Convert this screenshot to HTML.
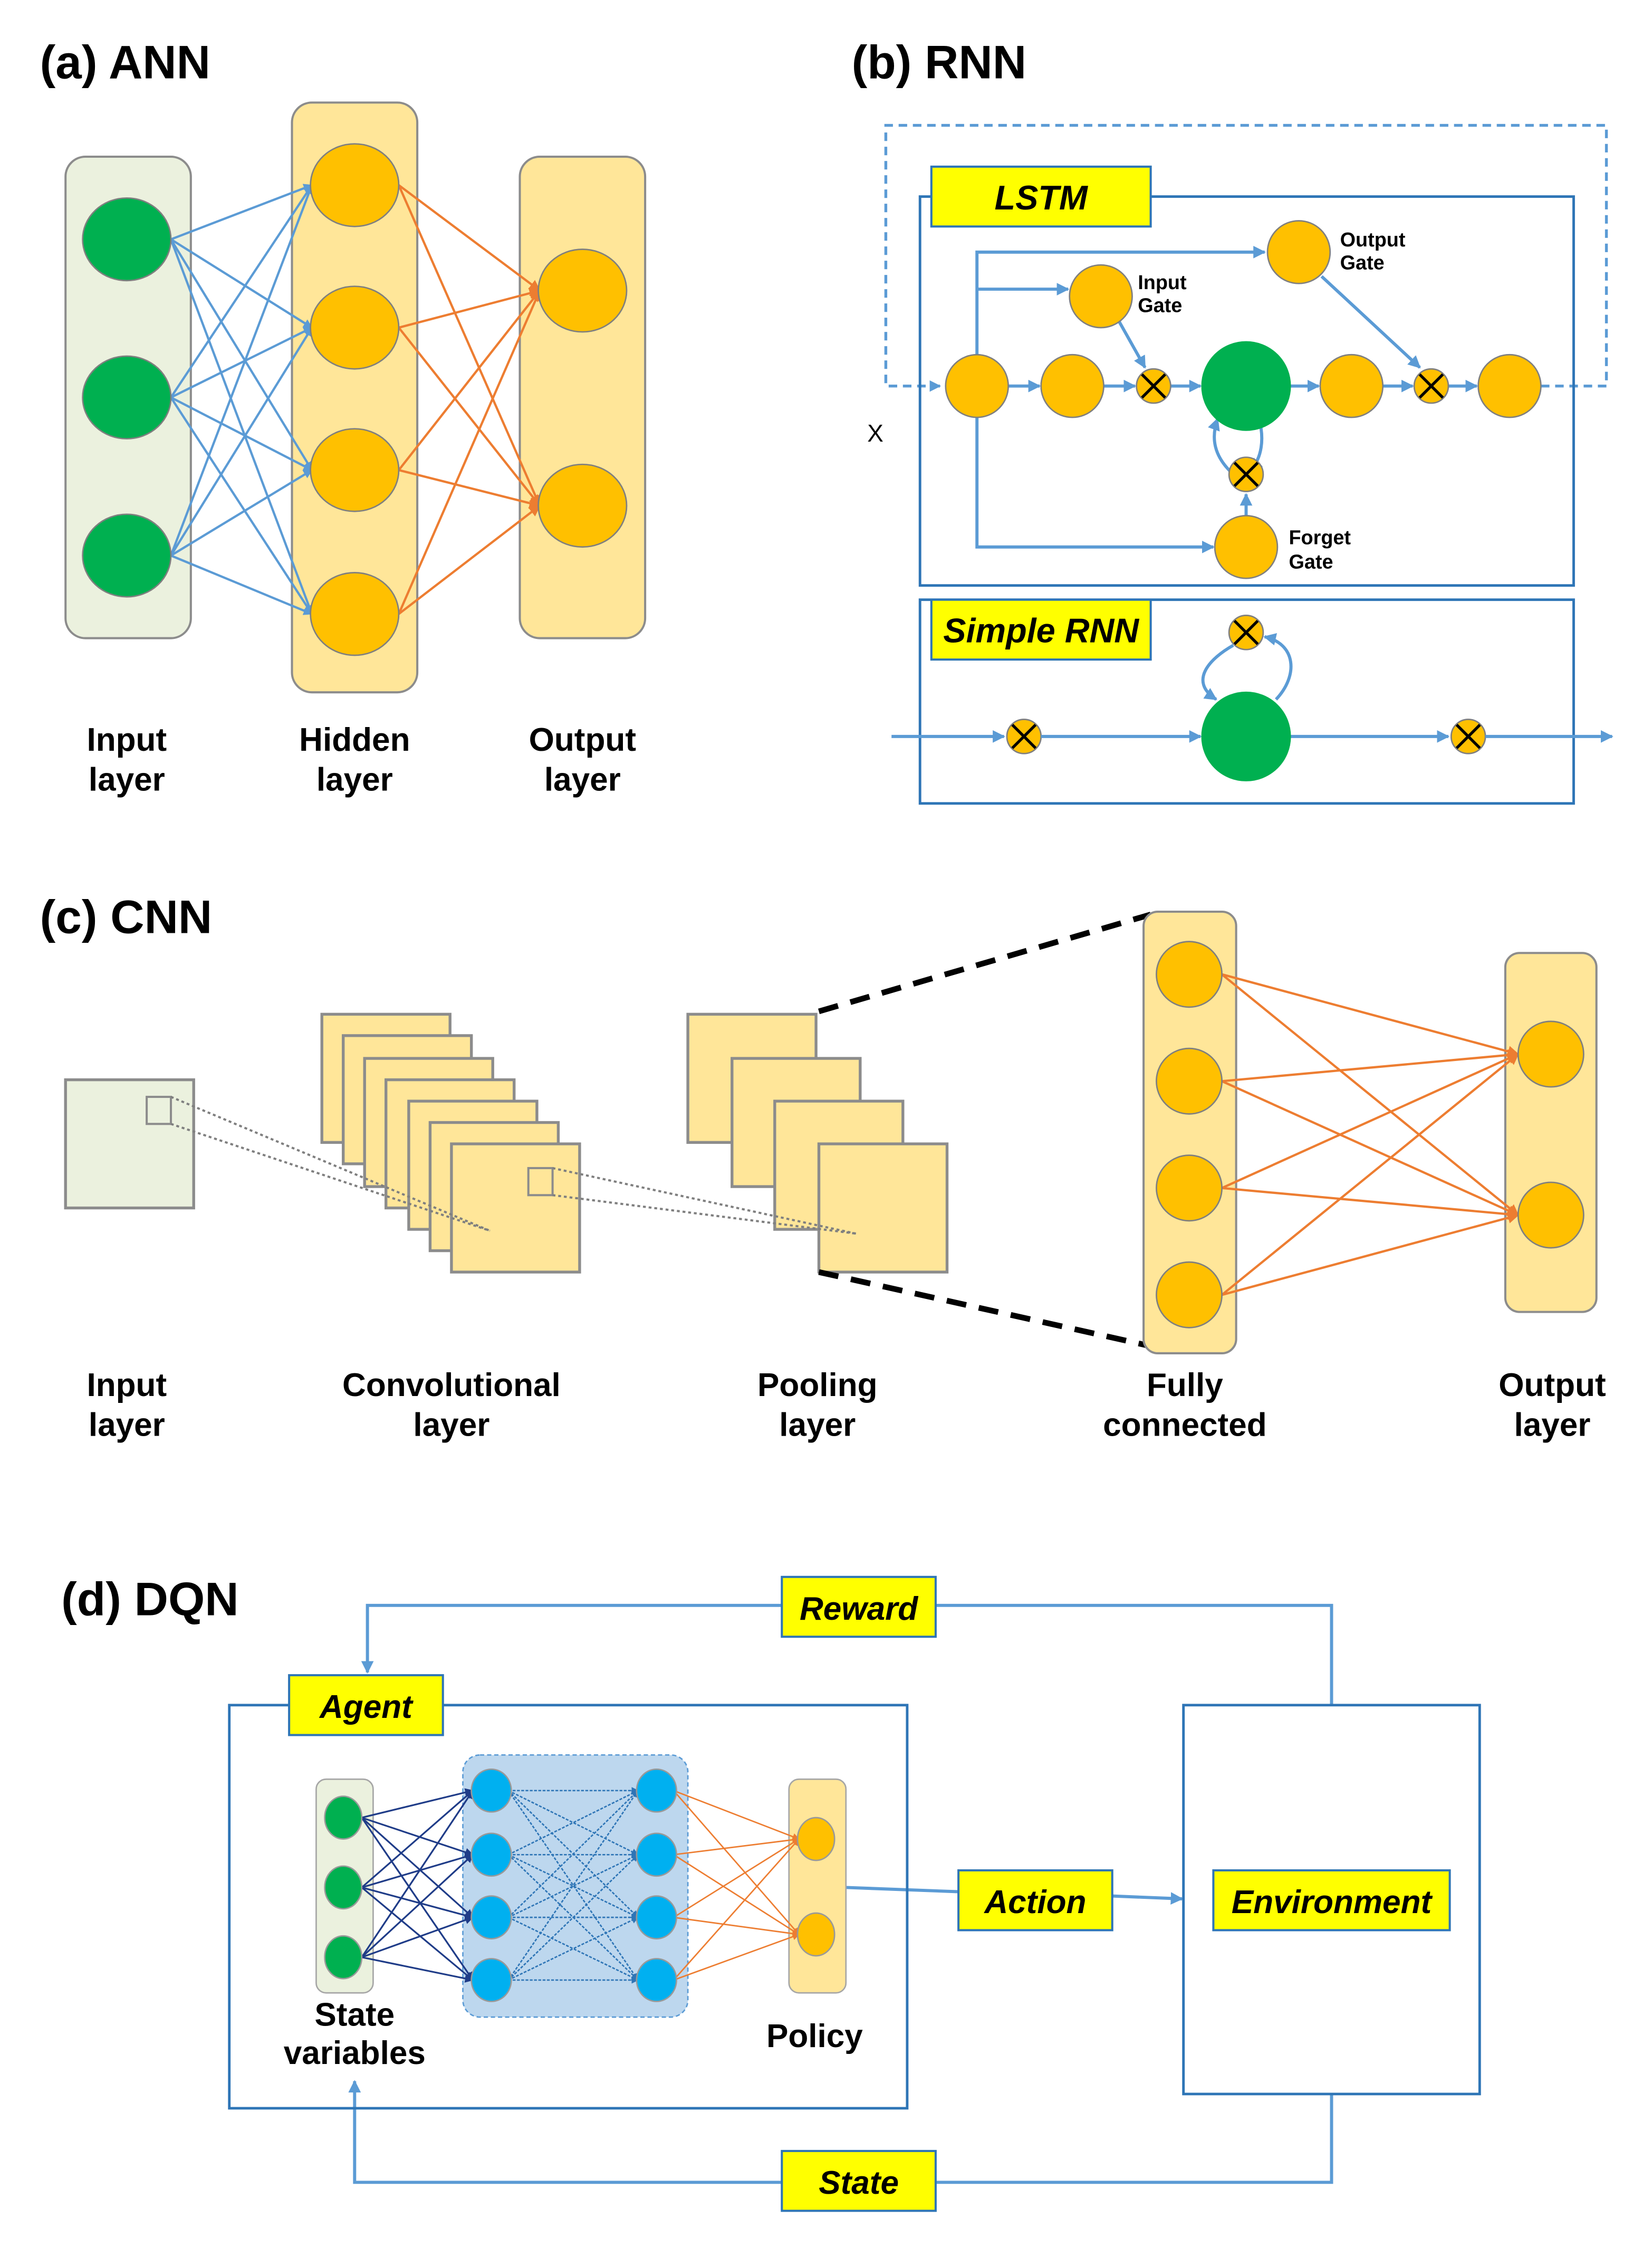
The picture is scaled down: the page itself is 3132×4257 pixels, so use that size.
<!DOCTYPE html>
<html><head><meta charset="utf-8"><style>
html,body{margin:0;padding:0;background:#fff}
svg{display:block}
text{font-family:"Liberation Sans",sans-serif;font-weight:bold;fill:#000}
</style></head><body>
<svg id="s" xmlns="http://www.w3.org/2000/svg" width="3132" height="4257" viewBox="0 0 1160 1576.7">
<defs>
<marker id="ab" viewBox="0 0 10 10" refX="9" refY="5" markerWidth="4" markerHeight="4" orient="auto"><path d="M0,0L10,5L0,10z" fill="#5b9bd5"/></marker>
<marker id="ao" viewBox="0 0 10 10" refX="9" refY="5" markerWidth="5" markerHeight="5" orient="auto"><path d="M0,0L10,5L0,10z" fill="#ed7d31"/></marker>
<marker id="ad" viewBox="0 0 10 10" refX="9" refY="5" markerWidth="5" markerHeight="5" orient="auto"><path d="M0,0L10,5L0,10z" fill="#1f3c88"/></marker>
<marker id="am" viewBox="0 0 10 10" refX="9" refY="5" markerWidth="5" markerHeight="5" orient="auto"><path d="M0,0L10,5L0,10z" fill="#2e75b6"/></marker>
</defs>

<!-- (a) ANN -->
<text x="28" y="55" font-size="33">(a) ANN</text>
<rect x="46" y="110" width="88" height="338" rx="14" fill="#ebf1de" stroke="#8c8c8c" stroke-width="1.5"/>
<rect x="205" y="72" width="88" height="414" rx="14" fill="#ffe699" stroke="#8c8c8c" stroke-width="1.5"/>
<rect x="365" y="110" width="88" height="338" rx="14" fill="#ffe699" stroke="#8c8c8c" stroke-width="1.5"/>
<g id="annlines"></g>
<g fill="#00b050" stroke="#7f7f7f">
<ellipse cx="89" cy="168" rx="31" ry="29"/>
<ellipse cx="89" cy="279" rx="31" ry="29"/>
<ellipse cx="89" cy="390" rx="31" ry="29"/>
</g>
<g fill="#ffc000" stroke="#7f7f7f">
<ellipse cx="249" cy="130" rx="31" ry="29"/>
<ellipse cx="249" cy="230" rx="31" ry="29"/>
<ellipse cx="249" cy="330" rx="31" ry="29"/>
<ellipse cx="249" cy="431" rx="31" ry="29"/>
<ellipse cx="409" cy="204" rx="31" ry="29"/>
<ellipse cx="409" cy="355" rx="31" ry="29"/>
</g>
<g font-size="23" text-anchor="middle">
<text x="89" y="527">Input</text><text x="89" y="555">layer</text>
<text x="249" y="527">Hidden</text><text x="249" y="555">layer</text>
<text x="409" y="527">Output</text><text x="409" y="555">layer</text>
</g>

<!-- (b) RNN -->
<text x="598" y="55" font-size="33">(b) RNN</text>
<path d="M1082,271 L1128,271 L1128,88 L622,88 L622,271 L660,271" fill="none" stroke="#5b9bd5" stroke-width="2" stroke-dasharray="6,4" marker-end="url(#ab)"/>
<rect x="646" y="138" width="459" height="273" fill="none" stroke="#2e75b6" stroke-width="1.8"/>
<rect x="654" y="117" width="154" height="42" fill="#ffff00" stroke="#2e75b6" stroke-width="1.5"/>
<text x="731" y="147" font-size="24" font-style="italic" text-anchor="middle">LSTM</text>
<text x="609" y="310" font-size="17" style="font-weight:normal">X</text>
<g fill="none" stroke="#5b9bd5" stroke-width="2.2">
<path d="M708,271 L730,271" marker-end="url(#ab)"/>
<path d="M775,271 L797,271" marker-end="url(#ab)"/>
<path d="M822,271 L843,271" marker-end="url(#ab)"/>
<path d="M906,271 L926,271" marker-end="url(#ab)"/>
<path d="M971,271 L992,271" marker-end="url(#ab)"/>
<path d="M1017,271 L1037,271" marker-end="url(#ab)"/>
<path d="M686,249 L686,177 L888,177" marker-end="url(#ab)"/>
<path d="M686,203 L750,203" marker-end="url(#ab)"/>
<path d="M686,293 L686,384 L852,384" marker-end="url(#ab)"/>
<path d="M786,226 L804,258" marker-end="url(#ab)"/>
<path d="M928,194 L997,258" marker-end="url(#ab)"/>
<path d="M875,362 L875,347" marker-end="url(#ab)"/>
<path d="M864,331 C853,320 850,308 855,294" marker-end="url(#ab)"/>
<path d="M884,294 C888,308 886,322 878,330" marker-end="url(#ab)"/>
</g>
<g fill="#ffc000" stroke="#7f7f7f">
<circle cx="686" cy="271" r="22"/><circle cx="753" cy="271" r="22"/>
<circle cx="949" cy="271" r="22"/><circle cx="1060" cy="271" r="22"/>
<circle cx="773" cy="208" r="22"/><circle cx="912" cy="177" r="22"/><circle cx="875" cy="384" r="22"/>
</g>
<circle cx="875" cy="271" r="31" fill="#00b050" stroke="#00b050"/>
<g id="mults"></g>
<g font-size="14">
<text x="799" y="203">Input</text><text x="799" y="219">Gate</text>
<text x="941" y="173">Output</text><text x="941" y="189">Gate</text>
<text x="905" y="382">Forget</text><text x="905" y="399">Gate</text>
</g>
<rect x="646" y="421" width="459" height="143" fill="none" stroke="#2e75b6" stroke-width="1.8"/>
<rect x="654" y="421" width="154" height="42" fill="#ffff00" stroke="#2e75b6" stroke-width="1.5"/>
<text x="731" y="451" font-size="24" font-style="italic" text-anchor="middle">Simple RNN</text>
<g fill="none" stroke="#5b9bd5" stroke-width="2.2">
<path d="M626,517 L705,517" marker-end="url(#ab)"/>
<path d="M731,517 L843,517" marker-end="url(#ab)"/>
<path d="M906,517 L1017,517" marker-end="url(#ab)"/>
<path d="M1043,517 L1132,517" marker-end="url(#ab)"/>
<path d="M866,453 C850,462 834,478 854,491" marker-end="url(#ab)"/>
<path d="M896,491 C912,474 910,452 888,447" marker-end="url(#ab)"/>
</g>
<circle cx="875" cy="517" r="31" fill="#00b050" stroke="#00b050"/>

<!-- (c) CNN -->
<text x="28" y="655" font-size="33">(c) CNN</text>
<rect x="46" y="758" width="90" height="90" fill="#ebf1de" stroke="#8c8c8c" stroke-width="2"/>
<rect x="103" y="770" width="17" height="19" fill="none" stroke="#8c8c8c" stroke-width="1.5"/>
<g fill="#ffe699" stroke="#8c8c8c" stroke-width="2">
<rect x="226" y="712" width="90" height="90"/>
<rect x="241" y="727" width="90" height="90"/>
<rect x="256" y="743" width="90" height="90"/>
<rect x="271" y="758" width="90" height="90"/>
<rect x="287" y="773" width="90" height="90"/>
<rect x="302" y="788" width="90" height="90"/>
<rect x="317" y="803" width="90" height="90"/>
<rect x="483" y="712" width="90" height="90"/>
<rect x="514" y="743" width="90" height="90"/>
<rect x="544" y="773" width="90" height="90"/>
<rect x="575" y="803" width="90" height="90"/>
</g>
<rect x="371" y="820" width="17" height="19" fill="none" stroke="#8c8c8c" stroke-width="1.5"/>
<g stroke="#7f7f7f" stroke-width="1.5" stroke-dasharray="2,2" fill="none">
<path d="M120,770 L344,864"/><path d="M120,789 L344,864"/>
<path d="M388,820 L601,866"/><path d="M388,839 L601,866"/>
</g>
<g stroke="#000" stroke-width="4" stroke-dasharray="14,9" fill="none">
<path d="M575,710 L808,642"/><path d="M575,893 L808,945"/>
</g>
<rect x="803" y="640" width="65" height="310" rx="10" fill="#ffe699" stroke="#8c8c8c" stroke-width="1.5"/>
<rect x="1057" y="669" width="64" height="252" rx="10" fill="#ffe699" stroke="#8c8c8c" stroke-width="1.5"/>
<g id="cnnlines"></g>
<g fill="#ffc000" stroke="#7f7f7f">
<circle cx="835" cy="684" r="23"/><circle cx="835" cy="759" r="23"/>
<circle cx="835" cy="834" r="23"/><circle cx="835" cy="909" r="23"/>
<circle cx="1089" cy="740" r="23"/><circle cx="1089" cy="853" r="23"/>
</g>
<g font-size="23" text-anchor="middle">
<text x="89" y="980">Input</text><text x="89" y="1008">layer</text>
<text x="317" y="980">Convolutional</text><text x="317" y="1008">layer</text>
<text x="574" y="980">Pooling</text><text x="574" y="1008">layer</text>
<text x="832" y="980">Fully</text><text x="832" y="1008">connected</text>
<text x="1090" y="980">Output</text><text x="1090" y="1008">layer</text>
</g>

<!-- (d) DQN -->
<text x="43" y="1134" font-size="33">(d) DQN</text>
<g fill="none" stroke="#5b9bd5" stroke-width="2.2">
<path d="M935,1197 L935,1127 L258,1127 L258,1174" marker-end="url(#ab)"/>
<path d="M935,1470 L935,1532 L249,1532 L249,1461" marker-end="url(#ab)"/>
<path d="M594,1325 L673,1328"/>
<path d="M781,1331 L830,1333" marker-end="url(#ab)"/>
</g>
<rect x="161" y="1197" width="476" height="283" fill="none" stroke="#2e75b6" stroke-width="1.8"/>
<rect x="831" y="1197" width="208" height="273" fill="none" stroke="#2e75b6" stroke-width="1.8"/>
<g fill="#ffff00" stroke="#2e75b6" stroke-width="1.5">
<rect x="549" y="1107" width="108" height="42"/>
<rect x="203" y="1176" width="108" height="42"/>
<rect x="852" y="1313" width="166" height="42"/>
<rect x="673" y="1313" width="108" height="42"/>
<rect x="549" y="1510" width="108" height="42"/>
</g>
<g font-size="23" font-style="italic" text-anchor="middle">
<text x="603" y="1137">Reward</text>
<text x="257" y="1206">Agent</text>
<text x="935" y="1343">Environment</text>
<text x="727" y="1343">Action</text>
<text x="603" y="1540">State</text>
</g>
<rect x="222" y="1249" width="40" height="150" rx="7" fill="#ebf1de" stroke="#a6a6a6"/>
<rect x="325" y="1232" width="158" height="184" rx="12" fill="#bdd7ee" stroke="#5b9bd5" stroke-dasharray="3,2"/>
<rect x="554" y="1249" width="40" height="150" rx="7" fill="#ffe699" stroke="#a6a6a6"/>
<g id="dqnlines"></g>
<g id="dqnnodes"></g>
<g font-size="23" text-anchor="middle">
<text x="249" y="1422">State</text><text x="249" y="1449">variables</text>
<text x="572" y="1437">Policy</text>
</g>
</svg>
<script>
var NS="http://www.w3.org/2000/svg";
function el(p,t,a){var e=document.createElementNS(NS,t);for(var k in a)e.setAttribute(k,a[k]);document.getElementById(p).appendChild(e);return e;}
function ln(p,x1,y1,x2,y2,c,m,w,d){var a={x1:x1,y1:y1,x2:x2,y2:y2,stroke:c,"stroke-width":w||1.5};if(m)a["marker-end"]="url(#"+m+")";if(d)a["stroke-dasharray"]=d;el(p,"line",a);}
// ANN
var inp=[168,279,390],hid=[130,230,330,431],out=[204,355];
inp.forEach(function(a){hid.forEach(function(b){ln("annlines",120,a,219,b,"#5b9bd5","ab",1.6);});});
hid.forEach(function(a){out.forEach(function(b){ln("annlines",280,a,379,b,"#ed7d31","ao",1.6);});});
// mults
function mult(x,y,r){el("mults","circle",{cx:x,cy:y,r:r,fill:"#ffc000",stroke:"#7f7f7f"});var d=r*0.68;
ln("mults",x-d,y-d,x+d,y+d,"#000",null,2);ln("mults",x-d,y+d,x+d,y-d,"#000",null,2);}
[[810,271],[1005,271],[875,333],[875,444],[719,517],[1031,517]].forEach(function(p){mult(p[0],p[1],12);});
// CNN
[684,759,834,909].forEach(function(a){[740,853].forEach(function(b){ln("cnnlines",858,a,1066,b,"#ed7d31","ao",1.6);});});
// DQN
var s=[1276,1325,1374],h=[1257,1302,1346,1390],p=[1291,1358];
s.forEach(function(a){h.forEach(function(b){ln("dqnlines",254,a,332,b,"#1f3c88","ad",1.2);});});
h.forEach(function(a){h.forEach(function(b){ln("dqnlines",357,a,448,b,"#2e75b6","am",1,"2,1");});});
h.forEach(function(a){p.forEach(function(b){ln("dqnlines",473,a,561,b,"#ed7d31","ao",1);});});
s.forEach(function(y){el("dqnnodes","ellipse",{cx:241,cy:y,rx:13,ry:15,fill:"#00b050",stroke:"#999"});});
h.forEach(function(y){el("dqnnodes","ellipse",{cx:345,cy:y,rx:14,ry:15,fill:"#00b0f0",stroke:"#999"});el("dqnnodes","ellipse",{cx:461,cy:y,rx:14,ry:15,fill:"#00b0f0",stroke:"#999"});});
p.forEach(function(y){el("dqnnodes","ellipse",{cx:573,cy:y,rx:13,ry:15,fill:"#ffc000",stroke:"#999"});});
</script>
</body></html>
